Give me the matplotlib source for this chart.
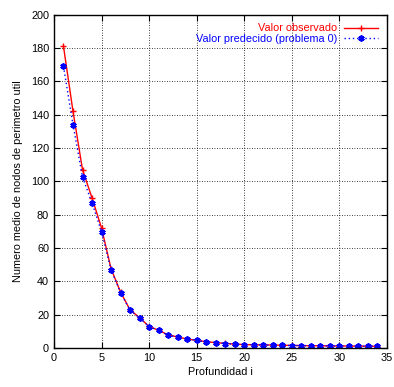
import matplotlib
matplotlib.use('Agg')
import matplotlib.pyplot as plt

plt.rcParams['font.family'] = ['Liberation Sans', 'DejaVu Sans']

profundidad = list(range(1, 35))
observado = [181, 142, 107, 90, 72, 47.5, 33.5, 22.8, 18.2, 12.8, 10.6, 7.8, 6.6,
             5.3, 4.6, 3.7, 3.2, 2.7, 2.3, 2.0, 1.9, 1.8, 1.7, 1.6, 1.5, 1.4, 1.3,
             1.3, 1.2, 1.2, 1.1, 1.1, 1.0, 1.0]
predecido = [169, 134, 102.5, 87, 69.8, 47, 33.2, 22.6, 18.0, 12.8, 10.6, 7.6, 6.6,
             5.2, 4.6, 3.6, 3.2, 2.6, 2.2, 2.0, 1.8, 1.7, 1.6, 1.5, 1.4, 1.4, 1.3,
             1.2, 1.2, 1.1, 1.1, 1.0, 1.0, 1.0]

fig = plt.figure(figsize=(3.94, 3.87), dpi=100)
ax = fig.add_axes([0.137, 0.101, 0.845, 0.861])

ax.plot(profundidad, observado, color='red', linewidth=1.0, marker='+',
        markersize=5, markeredgewidth=1.0, label='Valor observado')
ax.plot(profundidad, predecido, color='blue', linewidth=1.0, linestyle=(0, (1, 2)),
        marker=(6, 2, 0), markersize=4.5, markeredgewidth=1.3,
        label='Valor predecido (problema 0)')

ax.set_xlim(0, 35)
ax.set_ylim(0, 200)
ax.set_xticks(range(0, 36, 5))
ax.set_yticks(range(0, 201, 20))
ax.grid(True, color='black', linestyle=(0, (1, 2)), linewidth=0.6)
ax.tick_params(direction='in', top=True, right=True, labelsize=7.8, length=4)
for s in ax.spines.values():
    s.set_linewidth(1.0)

ax.set_xlabel('Profundidad i', fontsize=7.8, labelpad=3)
ax.set_ylabel('Numero medio de nodos de perimetro util', fontsize=7.8, labelpad=6)

leg = ax.legend(loc='upper right', fontsize=7.8, frameon=False, markerfirst=False,
                handlelength=3.2, handletextpad=0.6, borderaxespad=0.4,
                labelspacing=0.05, labelcolor='linecolor')

fig.savefig('out.png', dpi=100)
